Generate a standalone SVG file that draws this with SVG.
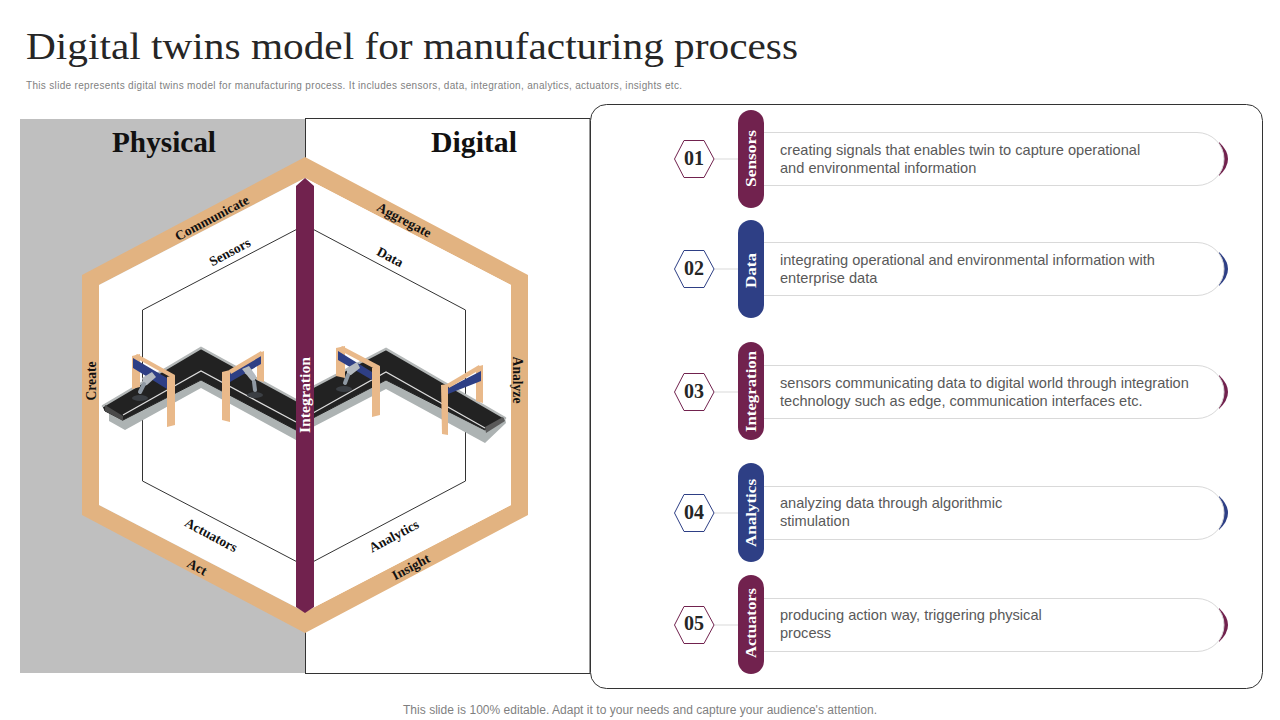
<svg xmlns="http://www.w3.org/2000/svg" width="1280" height="720" viewBox="0 0 1280 720">
<style>
.s{font-family:"Liberation Serif","DejaVu Serif",serif}
.b{font-family:"Liberation Serif","DejaVu Serif",serif;font-weight:bold}
.a{font-family:"Liberation Sans",Arial,sans-serif}
.body{font-size:14.6px;fill:#595959}
.lab{font-size:13.6px;fill:#111;text-anchor:middle;font-weight:bold}
.pill{font-size:15px;fill:#fff;text-anchor:middle;font-weight:bold}
.num{font-size:20px;fill:#262626;text-anchor:middle;font-weight:bold}
.hd{font-size:29px;fill:#111;text-anchor:middle;font-weight:bold}
.card{fill:#fff;stroke:#d9d9d9;stroke-width:1}
.lk{stroke:#d9d9d9;stroke-width:1;fill:none}
.post{fill:#e9b98a}
.beam{fill:#2e3f85}
.arm{fill:#b4bac0}
.base{fill:#3b3f44}
.stem{stroke:#8f99a3;stroke-width:4;fill:none;stroke-linecap:round}
</style>
<rect width="1280" height="720" fill="#fff"/>
<text class="s" x="26" y="59" font-size="38" fill="#262626" textLength="772" lengthAdjust="spacingAndGlyphs">Digital twins model for manufacturing process</text>
<text class="a" x="26" y="89" font-size="10" fill="#7f7f7f" textLength="656" lengthAdjust="spacing">This slide represents digital twins model for manufacturing process. It includes sensors, data, integration, analytics, actuators, insights etc.</text>
<rect x="20" y="119" width="285" height="554" fill="#bfbfbf"/>
<rect x="305.500" y="118.500" width="284.500" height="555" fill="#fff" stroke="#333" stroke-width="1"/>
<rect x="590.500" y="104.500" width="672" height="584" rx="16" fill="#fff" stroke="#333" stroke-width="1"/>
<text class="b hd" x="164" y="152" textLength="104" lengthAdjust="spacingAndGlyphs">Physical</text>
<text class="b hd" x="474" y="152" textLength="86" lengthAdjust="spacingAndGlyphs">Digital</text>
<g id="hexagon">
<path d="M305 157L528 275V515L305 633L82 515V275ZM305 178L99 285V505L305 612L511 505V285Z" fill="#e2b381" fill-rule="evenodd"/>
<path d="M305 178L99 285V505L305 612L511 505V285Z" fill="#fff"/>
<path d="M305 225L465.500 310V481L305 566L142.500 481V310Z" fill="none" stroke="#333" stroke-width="1"/>
</g>
<g id="conveyor">
<path d="M109 412L123 420L201 380L296 430L313 418L386 380L505 418L506 423L485 443L386 389L313 427L296 440L201 388L125 430L109 421Z" fill="#adb3b3"/>
<path d="M103 406L201 348L296 400L313 387L386 349L505 418L485 430L386 380L313 418L296 430L201 380L123 420L105 411Z" fill="#222" stroke="#222" stroke-linejoin="round"/>
<path d="M103 406L201 348L296 400M313 387L386 349L505 418" fill="none" stroke="#b4b8b8" stroke-width="2.500" stroke-linecap="round"/>
<path d="M123 415L201 371L296 422M313 413L386 372L485 428" fill="none" stroke="#ddd" stroke-width="1.200"/>
<path d="M105 405L123 416L123 421L105 411Z" fill="#4a4a4a"/>
<path d="M485 427L503 417L505 421L486 433Z" fill="#5a5a5a"/>
</g>
<g id="gates">
<path class="post" d="M132 356L140 354V387L132 389Z"/>
<path class="beam" d="M133 358L167 378V389L133 368Z"/>
<path class="post" d="M137 354L175 375L172 378L134 357Z"/>
<path class="arm" d="M142 378L152 372L156 377L147 385L144 386Z"/>
<path class="stem" d="M144 384L140 392"/>
<ellipse class="base" cx="140" cy="398" rx="8" ry="3"/>
<path class="post" d="M167 377L175 375V425L167 427Z"/>
<path class="post" d="M257 354L264 351V382L257 380Z"/>
<path class="beam" d="M230 372L261 354V364L230 382Z"/>
<path class="post" d="M229 370L261 351L263 355L231 374Z"/>
<path class="arm" d="M242 369L249 366L256 376L254 383L250 379Z"/>
<path class="stem" d="M254 382L255 390"/>
<ellipse class="base" cx="255" cy="395" rx="8" ry="3"/>
<path class="post" d="M222 372L230 370V422L222 420Z"/>
<path class="post" d="M336 348L345 346V378L336 376Z"/>
<path class="beam" d="M338 351L372 372V380L338 360Z"/>
<path class="post" d="M342 346L380 366L377 370L339 350Z"/>
<path class="arm" d="M347 368L357 362L360 368L351 375L347 376Z"/>
<path class="stem" d="M348 375L345 383"/>
<ellipse class="base" cx="344" cy="389" rx="8" ry="3"/>
<path class="post" d="M372 368L380 366V415L372 417Z"/>
<path class="post" d="M476 367L483 365V403L476 401Z"/>
<path class="beam" d="M448 388L481 371V381L448 394Z"/>
<path class="post" d="M447 384L479 365L481 369L449 388Z"/>
<path class="post" d="M441 385L448 384V435L442 434Z"/>
</g>
<g id="bar">
<path d="M296 186L305 178L314 186V607L305 613L296 607Z" fill="#71224e"/>
<text class="b" x="0" y="0" font-size="15" fill="#fff" text-anchor="middle" textLength="76" lengthAdjust="spacingAndGlyphs" transform="translate(310,395) rotate(-90)">Integration</text>
</g>
<g id="labels">
<text class="b lab" transform="translate(214,222) rotate(-28)">Communicate</text>
<text class="b lab" transform="translate(232,256) rotate(-28)">Sensors</text>
<text class="b lab" transform="translate(402,224) rotate(28)">Aggregate</text>
<text class="b lab" transform="translate(388,261) rotate(28)">Data</text>
<text class="b lab" transform="translate(96,381) rotate(-90)">Create</text>
<text class="b lab" transform="translate(513,380) rotate(90)">Analyze</text>
<text class="b lab" transform="translate(209,539) rotate(28)">Actuators</text>
<text class="b lab" transform="translate(195,571) rotate(28)">Act</text>
<text class="b lab" transform="translate(396,540) rotate(-28)">Analytics</text>
<text class="b lab" transform="translate(413,571) rotate(-28)">Insight</text>
</g>
<g id="row1">
<path d="M1219 142Q1237 159 1219 176Z" fill="#71224e"/>
<path class="card" d="M751 132.500H1197A27 26.500 0 0 1 1197 185.500H751Z"/>
<path class="lk" d="M714 159H738"/>
<path d="M684 140.500H704L714 159L704 177.500H684L674.500 159Z" fill="#fff" stroke="#71224e"/>
<text class="b num" x="694" y="165">01</text>
<rect x="738" y="110" width="26" height="98" rx="13" fill="#71224e"/>
<text class="b pill" textLength="57" lengthAdjust="spacingAndGlyphs" transform="translate(756,158.500) rotate(-90)">Sensors</text>
<text class="a body" x="780" y="155">creating signals that enables twin to capture operational</text>
<text class="a body" x="780" y="173">and environmental information</text>
</g>
<g id="row2">
<path d="M1219 252Q1237 269 1219 286Z" fill="#2e3f85"/>
<path class="card" d="M751 242.500H1197A27 26.500 0 0 1 1197 295.500H751Z"/>
<path class="lk" d="M714 269H738"/>
<path d="M684 250.500H704L714 269L704 287.500H684L674.500 269Z" fill="#fff" stroke="#2e3f85"/>
<text class="b num" x="694" y="275">02</text>
<rect x="738" y="220" width="26" height="98" rx="13" fill="#2e3f85"/>
<text class="b pill" textLength="35" lengthAdjust="spacingAndGlyphs" transform="translate(756,270.500) rotate(-90)">Data</text>
<text class="a body" x="780" y="265">integrating operational and environmental information with</text>
<text class="a body" x="780" y="283">enterprise data</text>
</g>
<g id="row3">
<path d="M1219 375Q1237 392 1219 409Z" fill="#71224e"/>
<path class="card" d="M751 365.500H1197A27 26.500 0 0 1 1197 418.500H751Z"/>
<path class="lk" d="M714 392H738"/>
<path d="M684 373.500H704L714 392L704 410.500H684L674.500 392Z" fill="#fff" stroke="#71224e"/>
<text class="b num" x="694" y="398">03</text>
<rect x="738" y="342" width="26" height="98" rx="13" fill="#71224e"/>
<text class="b pill" textLength="81" lengthAdjust="spacingAndGlyphs" transform="translate(756,391.500) rotate(-90)">Integration</text>
<text class="a body" x="780" y="388">sensors communicating data to digital world through integration</text>
<text class="a body" x="780" y="406">technology such as edge, communication interfaces etc.</text>
</g>
<g id="row4">
<path d="M1219 496Q1237 513 1219 530Z" fill="#2e3f85"/>
<path class="card" d="M751 486.500H1197A27 26.500 0 0 1 1197 539.500H751Z"/>
<path class="lk" d="M714 513H738"/>
<path d="M684 494.500H704L714 513L704 531.500H684L674.500 513Z" fill="#fff" stroke="#2e3f85"/>
<text class="b num" x="694" y="519">04</text>
<rect x="738" y="463" width="26" height="99" rx="13" fill="#2e3f85"/>
<text class="b pill" textLength="68" lengthAdjust="spacingAndGlyphs" transform="translate(756,513) rotate(-90)">Analytics</text>
<text class="a body" x="780" y="508">analyzing data through algorithmic</text>
<text class="a body" x="780" y="526">stimulation</text>
</g>
<g id="row5">
<path d="M1219 608Q1237 625 1219 642Z" fill="#71224e"/>
<path class="card" d="M751 598.500H1197A27 26.500 0 0 1 1197 651.500H751Z"/>
<path class="lk" d="M714 625H738"/>
<path d="M684 606.500H704L714 625L704 643.500H684L674.500 625Z" fill="#fff" stroke="#71224e"/>
<text class="b num" x="694" y="630">05</text>
<rect x="738" y="575" width="26" height="99" rx="13" fill="#71224e"/>
<text class="b pill" textLength="70" lengthAdjust="spacingAndGlyphs" transform="translate(756,623) rotate(-90)">Actuators</text>
<text class="a body" x="780" y="620">producing action way, triggering physical</text>
<text class="a body" x="780" y="638">process</text>
</g>
<text class="a" x="640" y="714" font-size="12" fill="#7f7f7f" text-anchor="middle" textLength="474" lengthAdjust="spacing">This slide is 100% editable. Adapt it to your needs and capture your audience's attention.</text>
</svg>
